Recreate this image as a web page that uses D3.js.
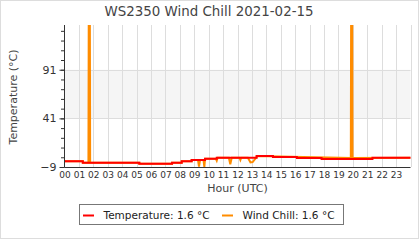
<!DOCTYPE html>
<html>
<head>
<meta charset="utf-8">
<script src="https://cdn.jsdelivr.net/npm/d3@7"></script>
<style>
  body { margin: 0; background: #fff; }
  svg { display: block; font-family: "DejaVu Sans", sans-serif; }
</style>
</head>
<body>
<svg width="420" height="240"></svg>
<script>
// temperature: step changes (hour of day, °C)
let tempHours  = [0, 1.27, 5.19, 7.46, 8.13, 8.82, 9.75, 10.56, 13.33, 14.46, 16.12, 17.83, 21.36, 24];
let tempValues = [-3.1, -4.6, -5.6, -4.6, -3.1, -1.8, -0.5, 0.6, 2.3, 1.3, 0.3, -0.7, 0.6, 0.6];

// wind chill samples (hour, °C)
let windHours  = [0, 1.27, 1.27, 1.66, 1.68, 1.76, 1.78, 5.19, 5.19, 7.46, 7.46, 8.13, 8.13, 8.82, 8.82,
                  9.26, 9.33, 9.40, 9.64, 9.70, 9.75, 10.50, 10.56, 10.62, 11.40, 11.50, 11.60, 12.14, 12.20, 12.26,
                  12.72, 12.90, 13.05, 13.30, 13.33, 19.86, 19.88, 19.96, 19.98, 24];
let windValues = [-3.1, -3.1, -4.6, -4.6, 137, 137, -4.6, -4.6, -5.6, -5.6, -4.6, -4.6, -3.1, -3.1, -1.8,
                  -1.8, -8.7, -1.8, -1.8, -9, -0.5, -0.5, -2.5, 0.6, 0.6, -6.2, 0.6, 0.6, -1.8, 0.6,
                  0.6, -4.2, -4.0, 0.6, 2.3, 0.3, 137, 137, 0.3, 0.6];

let hourLabels = d3.range(24).map(h => String(h).padStart(2, "0"));
let yMajor = [-9, 41, 91];
let yMinor = d3.range(-9, 137, 10);
let band = [41, 91];

let svg = d3.select("svg"),
    pLeft = 64.5, pRight = 410.5, pTop = 25, pBottom = 167;

let x = d3.scaleLinear().domain([0, 24]).range([pLeft, pRight]);
let y = d3.scaleLinear().domain([-9, 137]).range([pBottom, pTop]);

// outer frame
svg.append("rect").attr("x", 0.5).attr("y", 0.5).attr("width", 418).attr("height", 238)
  .attr("fill", "#fff").attr("stroke", "#ddd");

// shaded band
svg.append("rect").attr("x", pLeft).attr("width", pRight - pLeft)
  .attr("y", y(band[1])).attr("height", y(band[0]) - y(band[1]))
  .attr("fill", "#f5f5f5");

// grid
let grid = svg.append("g").attr("stroke", "#ddd").attr("stroke-width", 1);
grid.selectAll(".v").data(d3.range(1, 25)).enter().append("line")
  .attr("x1", d => Math.round(x(d)) + 0.5).attr("x2", d => Math.round(x(d)) + 0.5)
  .attr("y1", pTop).attr("y2", pBottom);
grid.selectAll(".h").data(band).enter().append("line")
  .attr("x1", pLeft).attr("x2", pRight)
  .attr("y1", d => Math.round(y(d)) + 0.5).attr("y2", d => Math.round(y(d)) + 0.5);

// lines
svg.append("clipPath").attr("id", "clip").append("rect")
  .attr("x", pLeft).attr("y", pTop).attr("width", pRight - pLeft).attr("height", pBottom - pTop);

let windLine = d3.line().x(d => x(d[0])).y(d => y(d[1]));
svg.append("path")
  .datum(d3.zip(windHours, windValues))
  .attr("clip-path", "url(#clip)")
  .attr("fill", "none").attr("stroke", "#ff8c00").attr("stroke-width", 2)
  .attr("d", windLine);

let tempLine = d3.line().x(d => x(d[0])).y(d => y(d[1])).curve(d3.curveStepAfter);
svg.append("path")
  .datum(d3.zip(tempHours, tempValues))
  .attr("fill", "none").attr("stroke", "#ff0000").attr("stroke-width", 2)
  .attr("d", tempLine);

// y axis
let yAxis = svg.append("g").attr("transform", `translate(${pLeft},0)`);
yAxis.call(d3.axisLeft(y).tickValues(yMinor).tickSize(3.5).tickFormat(""));
yAxis.append("g").call(d3.axisLeft(y).tickValues(yMajor).tickSize(5).tickPadding(3))
  .call(g => g.select(".domain").remove());
yAxis.selectAll("line").attr("stroke", "#333");
yAxis.select(".domain").attr("stroke", "#333").attr("d", `M0,${pTop}V${pBottom}`);
yAxis.selectAll("text").attr("font-size", 11).attr("fill", "#333").attr("font-family", "DejaVu Sans");

// x axis
let xAxis = svg.append("g").attr("transform", `translate(0,${pBottom})`)
  .call(d3.axisBottom(x).tickValues(d3.range(24)).tickSize(0).tickPadding(5)
    .tickFormat(d => hourLabels[d]));
xAxis.select(".domain").attr("stroke", "#333").attr("d", `M${pLeft},0.5H${pRight}`);
xAxis.selectAll("text").attr("font-size", 9).attr("fill", "#333").attr("font-family", "DejaVu Sans");

// titles
svg.append("text").attr("x", 209).attr("y", 15.5).attr("text-anchor", "middle")
  .attr("font-size", 13.4).attr("fill", "#444").text("WS2350 Wind Chill 2021-02-15");
svg.append("text").attr("x", (pLeft + pRight) / 2).attr("y", 192).attr("text-anchor", "middle")
  .attr("font-size", 11).attr("fill", "#444").text("Hour (UTC)");
svg.append("text").attr("transform", "translate(17,97) rotate(-90)").attr("text-anchor", "middle")
  .attr("font-size", 11).attr("fill", "#444").text("Temperature (°C)");

// legend
let legend = svg.append("g");
legend.append("rect").attr("x", 79.5).attr("y", 204.5).attr("width", 264).attr("height", 20)
  .attr("fill", "#fff").attr("stroke", "#777");
let items = [["Temperature: 1.6 °C", "#ff0000", 83], ["Wind Chill: 1.6 °C", "#ff8c00", 222]];
items.forEach(([label, color, lx]) => {
  legend.append("line").attr("x1", lx).attr("x2", lx + 11).attr("y1", 215.5).attr("y2", 215.5)
    .attr("stroke", color).attr("stroke-width", 2);
  legend.append("text").attr("x", lx + 20.5).attr("y", 218.5).attr("font-size", 10.5)
    .attr("fill", "#222").text(label);
});
</script>
</body>
</html>
